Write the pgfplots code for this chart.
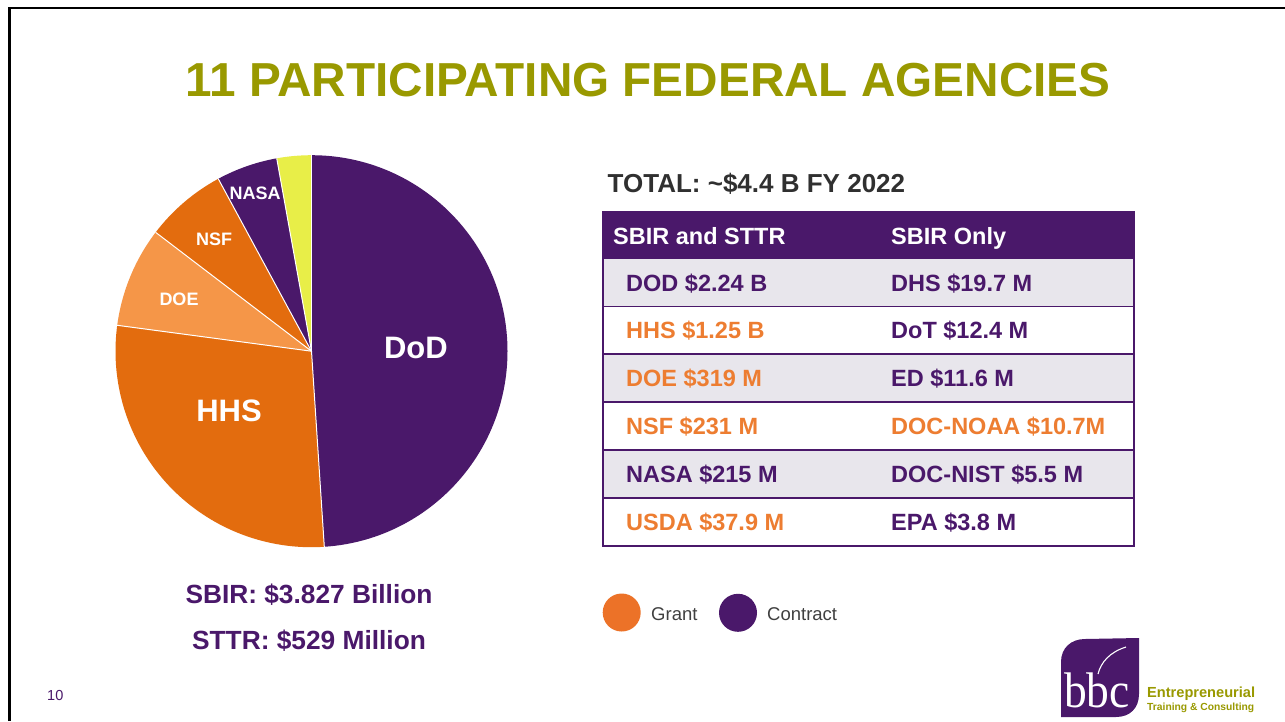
\documentclass[border=0pt]{standalone}
\usepackage{pgfplots}
\pgfplotsset{compat=1.18}
\usepackage{fontspec}
\setmainfont{Liberation Sans}
\newfontfamily\seriffont{Liberation Serif}
\definecolor{cPurple}{RGB}{74,24,106}
\definecolor{cOrange}{RGB}{227,108,14}
\definecolor{cLight}{RGB}{245,150,72}
\definecolor{cYellow}{RGB}{232,238,72}
\definecolor{cOlive}{RGB}{153,153,0}
\definecolor{cText}{RGB}{237,125,49}
\definecolor{cRow}{RGB}{232,230,236}
\definecolor{cGrant}{RGB}{236,114,40}
\definecolor{cGray}{RGB}{64,64,64}
\definecolor{cDark}{RGB}{48,48,48}
\newcommand\fs[1]{\fontsize{#1}{#1}\selectfont}
\newcommand\slice[3]{\fill[#3] (axis cs:0,0) -- (axis cs:{cos(#1)},{sin(#1)}) arc[start angle=#1, end angle=#2, radius=196pt] -- cycle;}
\newcommand\sep[1]{\draw[white, line width=1pt] (axis cs:0,0) -- (axis cs:{cos(#1)},{sin(#1)});}
\begin{document}
\begin{tikzpicture}[x=1pt,y=1pt]
\useasboundingbox (0,0) rectangle (1285,-721);
\fill[white] (0,0) rectangle (1285,-721);
\draw[black, line width=2.2pt] (9.5,-721) -- (9.5,-8.3) -- (1285,-8.3);
% title
\node[anchor=base, inner sep=0, text=cOlive, font={\fs{47.7}\bfseries}] at (648,-96) {11 PARTICIPATING FEDERAL AGENCIES};
% pie shares (percent): DoD, HHS, DOE, NSF, NASA, other
\pgfmathsetmacro\aO{90}
\pgfmathsetmacro\aA{\aO-3.6*48.96}
\pgfmathsetmacro\aB{\aA-3.6*28.15}
\pgfmathsetmacro\aC{\aB-3.6*8.26}
\pgfmathsetmacro\aD{\aC-3.6*6.74}
\pgfmathsetmacro\aE{\aD-3.6*5.05}
\pgfmathsetmacro\aF{\aE-3.6*2.84}
\begin{axis}[at={(311.5pt,-351.2pt)}, anchor=center, scale only axis,
  width=392pt, height=392pt, xmin=-1, xmax=1, ymin=-1, ymax=1,
  hide axis, clip=false]
\slice{\aO}{\aA}{cPurple}
\slice{\aA}{\aB}{cOrange}
\slice{\aB}{\aC}{cLight}
\slice{\aC}{\aD}{cOrange}
\slice{\aD}{\aE}{cPurple}
\slice{\aE}{\aF}{cYellow}
\sep{\aO}\sep{\aA}\sep{\aB}\sep{\aC}\sep{\aD}\sep{\aE}
\node[text=white, font={\fs{31}\bfseries}, inner sep=0] at (axis cs:0.533,0.015) {DoD};
\node[text=white, font={\fs{31}\bfseries}, inner sep=0] at (axis cs:-0.421,-0.306) {HHS};
\node[text=white, font={\fs{18}\bfseries}, inner sep=0] at (axis cs:-0.676,0.265) {DOE};
\node[text=white, font={\fs{18}\bfseries}, inner sep=0] at (axis cs:-0.497,0.571) {NSF};
\node[text=white, font={\fs{18}\bfseries}, inner sep=0] at (axis cs:-0.288,0.806) {NASA};
\end{axis}
% total
\node[anchor=base west, inner sep=0, text=cDark, font={\fs{26}\bfseries}] at (607.5,-192.5) {TOTAL: \textasciitilde\$4.4 B FY 2022};
% table
\fill[cPurple] (603,-212) rectangle (1134,-259);
\fill[cRow] (603,-259) rectangle (1134,-306.5);
\fill[cRow] (603,-354) rectangle (1134,-402);
\fill[cRow] (603,-450) rectangle (1134,-498);
\foreach \yy in {306.5,354,402,450,498} {\draw[cPurple, line width=1.4pt] (603,-\yy) -- (1134,-\yy);}
\draw[cPurple, line width=1.4pt] (603,-212) rectangle (1134,-546);
\node[anchor=base west, inner sep=0, text=white, font={\fs{23.5}\bfseries}] at (613,-244) {SBIR and STTR};
\node[anchor=base west, inner sep=0, text=white, font={\fs{23.5}\bfseries}] at (891,-244) {SBIR Only};
\tikzset{cell/.style={anchor=base west, inner sep=0, font={\fs{23.5}\bfseries}}}
\node[cell, text=cPurple] at (626,-291) {DOD \$2.24 B};
\node[cell, text=cText]   at (626,-338.5) {HHS \$1.25 B};
\node[cell, text=cText]   at (626,-386.5) {DOE \$319 M};
\node[cell, text=cText]   at (626,-434.5) {NSF \$231 M};
\node[cell, text=cPurple] at (626,-482.5) {NASA \$215 M};
\node[cell, text=cText]   at (626,-530.5) {USDA \$37.9 M};
\node[cell, text=cPurple] at (891,-291) {DHS \$19.7 M};
\node[cell, text=cPurple] at (891,-338.5) {DoT \$12.4 M};
\node[cell, text=cPurple] at (891,-386.5) {ED \$11.6 M};
\node[cell, text=cText]   at (891,-434.5) {DOC-NOAA \$10.7M};
\node[cell, text=cPurple] at (891,-482.5) {DOC-NIST \$5.5 M};
\node[cell, text=cPurple] at (891,-530.5) {EPA \$3.8 M};
% legend
\fill[cGrant] (621.7,-612.5) circle (19);
\node[anchor=base west, inner sep=0, text=cGray, font={\fs{18.5}}] at (651,-620) {Grant};
\fill[cPurple] (738,-612.8) circle (19);
\node[anchor=base west, inner sep=0, text=cGray, font={\fs{18.5}}] at (767,-620) {Contract};
% bottom left
\node[anchor=base, inner sep=0, text=cPurple, font={\fs{26.3}\bfseries}] at (309,-603.5) {SBIR: \$3.827 Billion};
\node[anchor=base, inner sep=0, text=cPurple, font={\fs{26.3}\bfseries}] at (309,-649.5) {STTR: \$529 Million};
\node[anchor=base west, inner sep=0, text=cPurple, font={\fs{14.5}}] at (47,-700) {10};
% logo
\fill[cPurple] (1061,-717) -- (1061,-662) .. controls (1061,-648) and (1071,-639) .. (1085,-639) -- (1139,-638) -- (1139,-694) .. controls (1139,-708) and (1130,-717) .. (1116,-717) -- cycle;
\draw[white, line width=1.1pt] (1098,-674) .. controls (1101,-662) and (1110,-652) .. (1126,-647);
\node[anchor=base west, inner sep=0, text=white, font={\seriffont\fs{50}}, xscale=0.91] at (1064,-707) {bbc};
\node[anchor=base west, inner sep=0, text=cOlive, font={\fs{14.6}\bfseries}] at (1147,-697.5) {Entrepreneurial};
\node[anchor=base west, inner sep=0, text=cOlive, font={\fs{10.3}\bfseries}] at (1147,-710) {Training \& Consulting};
\end{tikzpicture}
\end{document}
